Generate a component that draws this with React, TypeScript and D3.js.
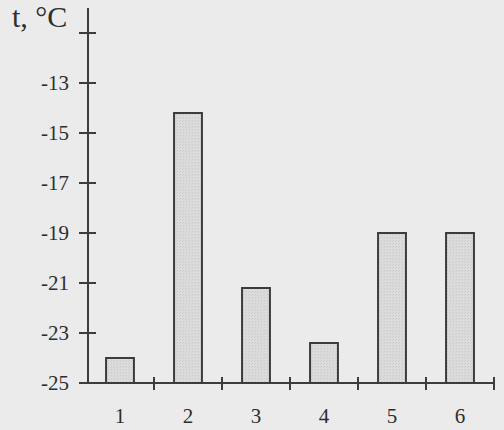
import React from "react";
import * as d3 from "d3";

const categories = ["1", "2", "3", "4", "5", "6"];
const temps = [-24.0, -14.2, -21.2, -23.4, -19.0, -19.0];
const yTicks = [-25, -23, -21, -19, -17, -15, -13, -11];
const yLabelled = [-25, -23, -21, -19, -17, -15, -13];

const W = 504;
const H = 430;
const ink = "#3c3c3c";
const font = "'Liberation Serif', 'Times New Roman', serif";

export default function App() {
  const x = d3.scaleBand<string>().domain(categories).range([86, 494]).padding(0);
  const y = d3.scaleLinear().domain([-25, -11]).range([383, 33]);
  const barW = x.bandwidth() * 0.41;
  const base = y(-25);

  return (
    <svg
      width={W}
      height={H}
      style={{ position: "absolute", left: 0, top: 0 }}
      fontFamily={font}
    >
      <defs>
        <pattern id="stipple" width="3" height="3" patternUnits="userSpaceOnUse">
          <rect width="3" height="3" fill="#dcdcdc" />
          <rect x="0" y="0" width="1" height="1" fill="#c8c8c8" />
          <rect x="2" y="1" width="1" height="1" fill="#cfcfcf" />
        </pattern>
      </defs>
      <rect width={W} height={H} fill="#ebebeb" />

      {/* bars */}
      {categories.map((c, i) => {
        const cx = (x(c) as number) + x.bandwidth() / 2;
        return (
          <rect
            key={c}
            x={cx - barW / 2}
            y={y(temps[i])}
            width={barW}
            height={base - y(temps[i])}
            fill="url(#stipple)"
            stroke={ink}
            strokeWidth={2}
          />
        );
      })}

      {/* y axis */}
      <line x1={88} x2={88} y1={8} y2={base} stroke={ink} strokeWidth={2} />
      {yTicks.map((t) => (
        <line
          key={t}
          x1={79}
          x2={t === -25 ? 88 : 96}
          y1={y(t)}
          y2={y(t)}
          stroke={ink}
          strokeWidth={2}
        />
      ))}
      {yLabelled.map((t) => (
        <text
          key={t}
          x={69}
          y={y(t)}
          dy="0.34em"
          textAnchor="end"
          fontSize={21}
          fill="#2e2e2e"
        >
          {t}
        </text>
      ))}
      <text x={12} y={27} fontSize={30} fill="#2e2e2e">
        t, °C
      </text>

      {/* x axis */}
      <line x1={79} x2={494} y1={base} y2={base} stroke={ink} strokeWidth={2} />
      {categories.map((c) => {
        const xr = (x(c) as number) + x.bandwidth();
        return (
          <line key={c} x1={xr} x2={xr} y1={base - 6} y2={base + 7} stroke={ink} strokeWidth={2} />
        );
      })}
      {categories.map((c) => (
        <text
          key={c}
          x={(x(c) as number) + x.bandwidth() / 2}
          y={423}
          textAnchor="middle"
          fontSize={21}
          fill="#2e2e2e"
        >
          {c}
        </text>
      ))}
    </svg>
  );
}
